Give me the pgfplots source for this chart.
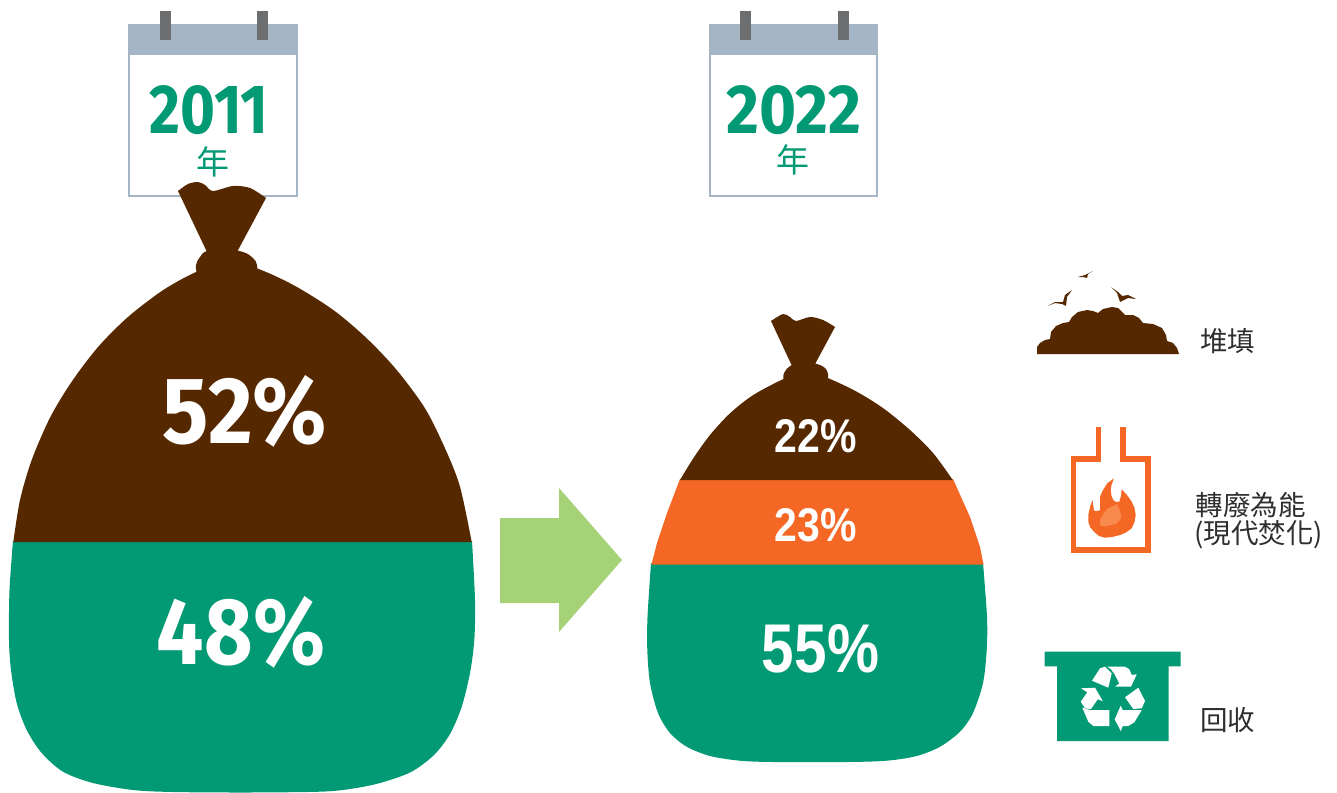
\documentclass[border=0pt]{standalone}
\usepackage{graphicx}
\usepackage{fontspec}
\usepackage{pgfplots}
\pgfplotsset{compat=1.18}
\setmainfont{Liberation Sans}
\newfontfamily\din{Fira Sans}
\newfontfamily\rob{Liberation Sans}
\newfontfamily\cjk{Noto Sans CJK TC}
\definecolor{brown1}{HTML}{552800}
\definecolor{green1}{HTML}{029A74}
\definecolor{orange1}{HTML}{F56725}
\definecolor{orange2}{HTML}{F78A4C}
\definecolor{band}{HTML}{A5B5C5}
\definecolor{pin}{HTML}{6D6E70}
\definecolor{arrow1}{HTML}{A5D276}
\definecolor{txt}{HTML}{2E2E2E}
\newcommand{\fitd}[3]{\resizebox{#1pt}{#2pt}{\din\bfseries #3}}
\newcommand{\fitr}[3]{\resizebox{#1pt}{#2pt}{\rob\bfseries #3}}
\begin{document}
\begin{tikzpicture}
\path[use as bounding box] (0,0) rectangle (1337pt,792pt);
\begin{axis}[
  at={(0,0)}, anchor=south west,
  scale only axis, width=1337pt, height=792pt,
  xmin=0, xmax=1337, ymin=0, ymax=792, y dir=reverse,
  hide axis, clip=false,
  every node/.append style={inner sep=0pt, outer sep=0pt},
]
% calendars
\addplot[draw=band, line width=2.4pt, fill=white] coordinates {(129.2,30) (296.8,30) (296.8,195.8) (129.2,195.8) (129.2,30)};
\addplot[fill=band, draw=none] coordinates {(128,24) (298,24) (298,55) (128,55)};
\addplot[fill=pin, draw=none] coordinates {(160,11) (171,11) (171,40) (160,40)};
\addplot[fill=pin, draw=none] coordinates {(257,11) (268,11) (268,40) (257,40)};
\addplot[draw=band, line width=2.4pt, fill=white] coordinates {(710.2,30) (877,30) (877,195.8) (710.2,195.8) (710.2,30)};
\addplot[fill=band, draw=none] coordinates {(709,24) (878,24) (878,55) (709,55)};
\addplot[fill=pin, draw=none] coordinates {(740,11) (751,11) (751,40) (740,40)};
\addplot[fill=pin, draw=none] coordinates {(838,11) (849,11) (849,40) (838,40)};
% left bag
\addplot[fill=green1, draw=none, smooth] coordinates {(13,541) (9.5,590) (9,640) (11,670) (16.7,703) (26.7,730) (41.7,753) (63,771.7) (93,783) (133,790) (173,792) (247,792.5) (320,791.7) (350,789) (380,783) (411,772) (434,755) (450,734) (461.7,706.7) (470,673) (474.3,640) (475,600) (472,541)};
\addplot[fill=brown1, draw=none, smooth] coordinates {(13.3,542) (20,500) (31.7,460) (50,417.7) (71.7,381.7) (98.3,346.7) (128.3,316.7) (163.3,290) (196.7,271.7) (227,262) (256.7,268.3) (293.3,285) (333.3,310) (366.7,338.3) (396.7,370) (425,408.3) (445,448.3) (460,486.7) (471.7,542)};
\addplot[fill=brown1, draw=none] coordinates {(178,191) (200,186) (213,193) (240,190) (266,198) (237,252) (207,252)};
\addplot[fill=brown1, draw=none, smooth] coordinates {(178,191) (188,184) (198,182) (205,185) (213,191) (233,186) (250,188) (266,198)};
\addplot[fill=brown1, draw=none, smooth, tension=0.7] coordinates {(197,274) (196,265) (200,257) (207,251) (225,249) (243,252) (253,258) (257,265) (257,274)};
% right bag
\addplot[fill=green1, draw=none, smooth] coordinates {(651,563) (647.5,617) (647.3,650) (650,683) (658,713) (670,733) (686.7,746.7) (710,756) (740,760.7) (773,762) (846.7,762) (886.7,760.7) (916.7,756) (940,746.7) (960,731.7) (973,713) (983,683) (986.7,650) (987,617) (983,563)};
\addplot[fill=orange1, draw=none] coordinates {(680,479) (953,479) (970,517) (980,547) (983.5,564.5) (651.5,564.5) (657,543) (667,513)};
\addplot[fill=brown1, draw=none, smooth] coordinates {(680,480) (693.3,458.3) (710,435) (730,413.3) (753.3,395) (785,378.3) (806,372) (828.3,378.3) (856.7,391.7) (883.3,408.3) (910,430) (933.3,453.3) (952.7,480)};
\addplot[fill=brown1, draw=none] coordinates {(771,321) (785,317) (796,323) (820,321) (835,327) (814,366) (792,366)};
\addplot[fill=brown1, draw=none, smooth] coordinates {(771,321) (783,314) (790,317) (796,321) (810,317) (823,320) (835,327)};
\addplot[fill=brown1, draw=none, smooth, tension=0.7] coordinates {(784,381) (784,373) (792,365) (806,362) (817,364) (825,368) (828,374) (828,381)};
% arrow
\addplot[fill=arrow1, draw=none] coordinates {(500,518) (559,518) (559,488) (622,560) (559,632) (559,603) (500,603)};
% mound and birds
\addplot[fill=brown1, draw=none] coordinates {(1037,354) (1037,347) (1040,343) (1045,340) (1050,339) (1051,332) (1056,326) (1063,323) (1069,322) (1072,317) (1078,312) (1087,310) (1093,311) (1098,313) (1103,309) (1112,307) (1118,308) (1125,315) (1133,315) (1139,318) (1143,323) (1153,324) (1162,328) (1166,335) (1167,341) (1173,343) (1177,348) (1179,354)};
\addplot[fill=brown1, draw=none] coordinates {(1048,306) (1055,302) (1063,302) (1065,295) (1072,290) (1067,297) (1066,306) (1062,304) (1055,303)};
\addplot[fill=brown1, draw=none] coordinates {(1111,287) (1118,292) (1122,296) (1128,295) (1136,299) (1128,298) (1120,302) (1117,293)};
\addplot[fill=brown1, draw=none] coordinates {(1078,277) (1085,275) (1093,271) (1088,274) (1087,278) (1083,277)};
% furnace
\addplot[draw=orange1, line width=5.2pt, miter limit=10] coordinates {(1098.7,427) (1098.7,459) (1073.3,459) (1073.3,550) (1148,550) (1148,459) (1123,459) (1123,427)};
\addplot[fill=orange1, draw=none] coordinates {(1088.3,515) (1090,507) (1092.5,500) (1094,510.7) (1098,511) (1100,510) (1100,496.7) (1103,490) (1107.3,483.3) (1114,478.3) (1111.5,485) (1110.7,490) (1111.5,496) (1113.3,500) (1116,502) (1119.3,501.7) (1121,496) (1121.7,489.3) (1127,495) (1131.7,501.7) (1134.5,508) (1135.7,515) (1134.5,522) (1131.7,528.3) (1126,532.5) (1120,535) (1112,537) (1105,537.7) (1099,536) (1094,531.7) (1090,527) (1088.3,521.7)};
\addplot[fill=orange2, draw=none] coordinates {(1100,520) (1104,513) (1108,508) (1111,507) (1117,504) (1120,511) (1121.5,518) (1116,524) (1104,526.5) (1100,525)};
% bin
\addplot[fill=green1, draw=none] coordinates {(1044.7,651.7) (1180.7,651.7) (1180.7,666.3) (1168.7,666.3) (1168.7,741) (1057,741) (1057,666.3) (1044.7,666.3)};
\addplot[fill=white, draw=none] coordinates {(1092,680.7) (1100,668.3) (1105,666.7) (1111.7,673.3) (1108.3,687.7)};
\addplot[fill=white, draw=none] coordinates {(1107.3,666.7) (1125,666.7) (1129.3,669.3) (1131.7,675) (1136.7,674.3) (1131,686.7) (1115,686.7) (1119.3,683.3) (1114,673.3) (1110.7,669)};
\addplot[fill=white, draw=none] coordinates {(1125,697.3) (1138.3,687.7) (1145,701) (1141.7,708.3) (1133.3,709)};
\addplot[fill=white, draw=none] coordinates {(1141.7,710) (1134.3,722.3) (1128.3,726) (1122.7,726) (1120.7,731) (1114.7,719.3) (1120.7,705.7) (1122.7,710)};
\addplot[fill=white, draw=none] coordinates {(1081,688.3) (1095,687.7) (1102.7,701) (1097.7,699.3) (1091,709) (1085,708.3) (1080.7,701.7) (1087.3,692.3)};
\addplot[fill=white, draw=none] coordinates {(1082.3,707.7) (1090,710) (1109.3,710) (1109.3,726) (1093.3,726) (1088.3,721.7)};
% text
\node[text=green1] at (axis cs:209,110) {\fitd{119}{48}{2011}};
\node[text=green1] at (axis cs:794,110) {\fitd{135}{48}{2022}};
\node[text=green1] at (axis cs:213,162) {\fontsize{33}{33}\cjk 年};
\node[text=green1] at (axis cs:793,160) {\fontsize{33}{33}\cjk 年};
\node[text=white] at (axis cs:245,411.5) {\fitd{164}{68}{52\%}};
\node[text=white] at (axis cs:241,632) {\fitd{168}{68}{48\%}};
\node[text=white] at (axis cs:816,436) {\fitr{82}{33}{22\%}};
\node[text=white] at (axis cs:816,525.5) {\fitr{82}{33}{23\%}};
\node[text=white] at (axis cs:820.5,649) {\fitr{117}{48}{55\%}};
\node[text=txt] at (axis cs:1227.5,341) {\fontsize{27.5}{27.5}\cjk 堆填};
\node[text=txt] at (axis cs:1250.5,505) {\fontsize{27.5}{27.5}\cjk 轉廢為能};
\node[text=txt] at (axis cs:1258.5,535) {\fontsize{27.5}{27.5}\cjk (現代焚化)};
\node[text=txt] at (axis cs:1227.5,720) {\fontsize{27.5}{27.5}\cjk 回收};
\end{axis}
\end{tikzpicture}
\end{document}
